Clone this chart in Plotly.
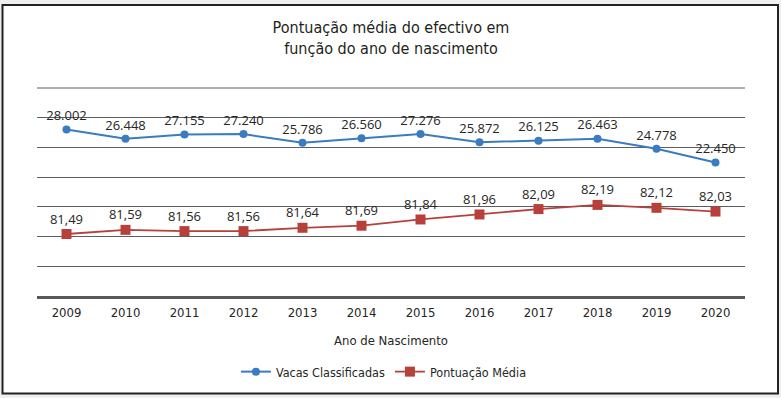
import plotly.graph_objects as go

years = ["2009", "2010", "2011", "2012", "2013", "2014", "2015", "2016", "2017", "2018", "2019", "2020"]
vacas = [28002, 26448, 27155, 27240, 25786, 26560, 27276, 25872, 26125, 26463, 24778, 22450]
pontuacao = [81.49, 81.59, 81.56, 81.56, 81.64, 81.69, 81.84, 81.96, 82.09, 82.19, 82.12, 82.03]

vacas_txt = [f"{v:,}".replace(",", ".") for v in vacas]
pont_txt = [f"{v:.2f}".replace(".", ",") for v in pontuacao]

BLUE = "#3a7cbf"
RED = "#b8403a"
COND = "DejaVu Sans Condensed, Liberation Sans Narrow, sans-serif"
LABF = "Open Sans, Noto Sans, sans-serif"
GRID = "#5e5e5e"

fig = go.Figure()
fig.add_trace(go.Scatter(
    x=years, y=vacas, name="Vacas Classificadas", mode="lines+markers+text",
    line=dict(color=BLUE, width=2), marker=dict(color=BLUE, size=8, symbol="circle"),
    text=vacas_txt, textposition="top center",
    textfont=dict(family=LABF, size=13, color="#262626"), yaxis="y"))
fig.add_trace(go.Scatter(
    x=years, y=pontuacao, name="Pontuação Média", mode="lines+markers+text",
    line=dict(color=RED, width=1.8), marker=dict(color=RED, size=10, symbol="square"),
    text=pont_txt, textposition="top center",
    textfont=dict(family=LABF, size=13, color="#262626"), yaxis="y2"))

L, R, T, B = 37, 36, 88, 101
W, H = 781, 398
pw, ph = W - L - R, H - T - B

def px(x):
    return (x - L) / pw

def py(y):
    return (H - B - y) / ph

fig.update_layout(
    width=W, height=H,
    margin=dict(l=L, r=R, t=T, b=B),
    paper_bgcolor="#efefef", plot_bgcolor="white",
    title=dict(text="Pontuação média do efectivo em<br>função do ano de nascimento",
               x=0.5, xanchor="center", xref="paper", y=1 - 33 / H, yanchor="middle",
               font=dict(family=COND, size=16, color="#231f20")),
    xaxis=dict(type="category", range=[-0.5, len(years) - 0.5], showgrid=False, showline=True,
               linecolor="#595959", linewidth=2.5, ticks="", ticklabelstandoff=3,
               tickfont=dict(family=COND, size=13, color="#262626"),
               title=dict(text="Ano de Nascimento", font=dict(family=COND, size=13, color="#262626"),
                          standoff=17)),
    yaxis=dict(range=[0, 35000], dtick=5000, showgrid=True, gridcolor=GRID, gridwidth=1,
               showticklabels=False, zeroline=False, showline=False),
    yaxis2=dict(range=[80, 85], overlaying="y", side="right", showgrid=False,
                showticklabels=False, zeroline=False, showline=False),
    legend=dict(orientation="h", x=0.49, xanchor="center", y=py(372), yanchor="middle",
                font=dict(family=COND, size=12.5, color="#262626"), bgcolor="rgba(0,0,0,0)"),
    showlegend=True,
    shapes=[
        dict(type="rect", xref="paper", yref="paper", layer="below",
             x0=px(2.5), x1=px(778), y0=py(395), y1=py(4.5),
             line=dict(color="#222222", width=2), fillcolor="white"),
        dict(type="line", xref="paper", yref="paper", layer="below",
             x0=0, x1=1, y0=1, y1=1, line=dict(color=GRID, width=1)),
    ],
)

fig.write_html("out.html", config={"displayModeBar": False},
               post_script="document.body.style.margin='0';")
